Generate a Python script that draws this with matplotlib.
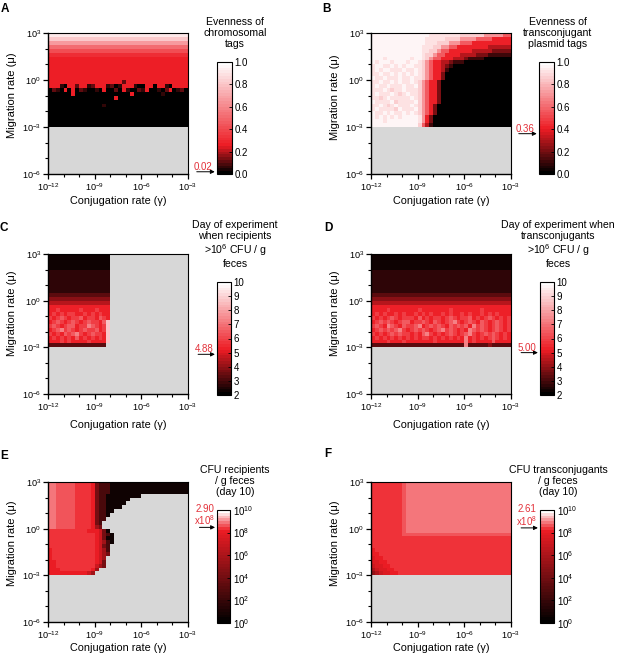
import numpy as np
import matplotlib
matplotlib.use('Agg')
import matplotlib.pyplot as plt
from matplotlib.colors import LinearSegmentedColormap, Normalize
from matplotlib.ticker import NullFormatter

plt.rcParams['font.family'] = ['Liberation Sans', 'DejaVu Sans']
plt.rcParams['mathtext.fontset'] = 'custom'
plt.rcParams['mathtext.rm'] = 'Liberation Sans'
plt.rcParams['mathtext.it'] = 'Liberation Sans:italic'
plt.rcParams['mathtext.bf'] = 'Liberation Sans:bold'

# grids: 24 rows (mu = 10^3 at top down to 10^-3), 36 columns (gamma 10^-12 .. 10^-3)
# each character is an index into that panel's level list, '.' = no data (grey)

A_levels = [0.0, 0.05, 0.12, 0.27, 0.32, 0.40, 0.52, 0.66, 0.80, 0.92]
A_rows = [
    "999999 999999 999999 999999 999999 999999",
    "888888 888888 888888 888888 888888 888888",
    "777777 777777 777777 777777 777777 777777",
    "666666 666666 666666 666666 666666 666666",
    "555555 555555 555555 555555 555555 555555",
    "444444 444444 444444 444444 444444 444444",
    "333333 333333 333333 333333 333333 333333",
    "333333 333333 333333 333333 333333 333333",
    "333333 333333 333333 333333 333333 333333",
    "333333 333333 333333 333333 333333 333333",
    "333333 333333 333333 333333 333333 333333",
    "333333 333333 333333 333333 333333 333333",
    "333333 333333 333333 323333 333333 333333",
    "333103 323312 333120 133310 033033 103333",
    "021030 302100 103002 031002 130010 230120",
    "000000 300000 000000 000300 000001 000000",
    "000000 000000 000003 000000 000000 000000",
    "000000 000000 000000 000000 000000 000000",
    "000000 000000 001000 000000 000000 000000",
    "000000 000000 000000 000000 000000 000000",
    "000000 000000 000000 000000 000000 000000",
    "000000 000000 000000 000000 000000 000000",
    "000000 000000 000000 000000 000000 000000",
    "000000 000000 000000 000000 000000 000000",
]

B_levels = [0.02, 0.10, 0.20, 0.30, 0.40, 0.55, 0.70, 0.86, 0.92, 0.97]
B_rows = [
    "999999 999999 999888 888887 777776 666655",
    "999999 999999 998888 877776 666555 544444",
    "999999 999999 998887 776665 554444 444444",
    "999999 999999 988877 665544 444444 333333",
    "999999 999999 988776 554444 443333 322222",
    "999999 999999 987765 544443 333222 111111",
    "999899 999989 987655 444333 211110 000000",
    "989998 999899 876544 332111 000000 000000",
    "899889 898998 876544 321000 000000 000000",
    "898998 889889 876544 310000 000000 000000",
    "889889 898989 876544 200000 000000 000000",
    "988988 898898 876544 200000 000000 000000",
    "889889 898898 765442 000000 000000 000000",
    "898898 889889 765442 000000 000000 000000",
    "888987 889888 765442 000000 000000 000000",
    "898889 878988 765442 000000 000000 000000",
    "887898 888898 765442 000000 000000 000000",
    "988889 788889 765442 000000 000000 000000",
    "889878 988898 765420 000000 000000 000000",
    "898888 798889 765420 000000 000000 000000",
    "988989 889898 765420 000000 000000 000000",
    "989898 989999 864200 000000 000000 000000",
    "999899 999999 864200 000000 000000 000000",
    "999999 999999 753100 000000 000000 000000",
]

C_levels = [2.3, 2.6, 3.2, 3.9, 4.6, 5.2, 5.8, 6.5, 7.3, 8.6]
C_rows = [
    "000000 000000 0000.. ...... ...... ......",
    "000000 000000 0000.. ...... ...... ......",
    "000000 000000 0000.. ...... ...... ......",
    "000000 000000 0000.. ...... ...... ......",
    "111111 111111 1111.. ...... ...... ......",
    "111111 111111 1111.. ...... ...... ......",
    "111111 111111 1111.. ...... ...... ......",
    "111111 111111 1111.. ...... ...... ......",
    "111111 111111 1111.. ...... ...... ......",
    "111111 111111 1111.. ...... ...... ......",
    "222222 222222 2222.. ...... ...... ......",
    "333333 333333 3333.. ...... ...... ......",
    "444444 444444 4444.. ...... ...... ......",
    "555555 555555 5555.. ...... ...... ......",
    "556555 556555 6555.. ...... ...... ......",
    "565656 655656 5655.. ...... ...... ......",
    "656765 667566 5765.. ...... ...... ......",
    "567656 765676 6579.. ...... ...... ......",
    "676567 756687 6569.. ...... ...... ......",
    "567867 656766 7569.. ...... ...... ......",
    "656576 786567 6659.. ...... ...... ......",
    "565656 575656 5659.. ...... ...... ......",
    "555656 555565 5559.. ...... ...... ......",
    "222222 222222 222... ...... ...... ......",
]

D_levels = [2.3, 2.6, 3.2, 3.9, 4.6, 5.2, 5.8, 6.5, 7.3, 8.2]
D_rows = [
    "000000 000000 000000 000000 000000 000000",
    "000000 000000 000000 000000 000000 000000",
    "000000 000000 000000 000000 000000 000000",
    "000000 000000 000000 000000 000000 000000",
    "111111 111111 111111 111111 111111 111111",
    "111111 111111 111111 111111 111111 111111",
    "111111 111111 111111 111111 111111 111111",
    "111111 111111 111111 111111 111111 111111",
    "111111 111111 111111 111111 111111 111111",
    "111111 111111 111111 111111 111111 111111",
    "222222 222222 222222 222222 222222 222222",
    "333333 333333 333333 333333 333333 333333",
    "444444 444444 444444 444444 444444 444444",
    "555555 555555 555555 555555 555555 555555",
    "555565 555555 655555 556555 555565 555555",
    "565655 656556 565655 656556 565565 656555",
    "656567 656665 756566 567656 675656 765656",
    "567676 567756 676576 567865 676576 567656",
    "676587 657667 856767 657676 758676 567656",
    "567676 786567 676567 867656 587676 567656",
    "656567 676656 578656 567656 786567 676565",
    "565656 565656 566565 656565 856565 676565",
    "555565 556555 555565 555555 856555 575555",
    "222222 222222 222222 222222 822222 322222",
]

E_levels = [0.5, 2.5, 4.0, 5.5, 7.0, 8.0, 8.3, 8.45, 8.6, 8.75]   # log10 CFU
E_rows = [
    "998888 877665 211100 000000 000000 000000",
    "998888 877665 211100 000000 000000 000000",
    "998888 877665 211100 000000 000000 000000",
    "998888 877665 211000 000000 ...... ......",
    "998888 877665 211000 000... ...... ......",
    "998888 877665 211000 00.... ...... ......",
    "998888 877665 211000 0..... ...... ......",
    "998888 877665 21100. ...... ...... ......",
    "998888 877665 2110.. ...... ...... ......",
    "998888 877665 211... ...... ...... ......",
    "998888 877665 21.... ...... ...... ......",
    "998888 877665 32.... ...... ...... ......",
    "777777 766655 5420.. ...... ...... ......",
    "666666 666666 54210. ...... ...... ......",
    "666666 666666 54200. ...... ...... ......",
    "666666 666666 54310. ...... ...... ......",
    "666666 666666 5421.. ...... ...... ......",
    "566666 666666 5431.. ...... ...... ......",
    "566666 666666 5432.. ...... ...... ......",
    "566666 666666 543... ...... ...... ......",
    "556666 666666 542... ...... ...... ......",
    "556666 666666 432... ...... ...... ......",
    "555666 666665 3..... ...... ...... ......",
    "555555 555543 ...... ...... ...... ......",
]

F_levels = [5.0, 6.0, 7.0, 7.6, 8.0, 8.3, 8.45, 8.6, 8.75, 8.9]   # log10 CFU
F_rows = [
    "555555 567888 888888 888888 888888 888888",
    "555555 567888 888888 888888 888888 888888",
    "555555 567888 888888 888888 888888 888888",
    "555555 567888 888888 888888 888888 888888",
    "555555 567888 888888 888888 888888 888888",
    "555555 567888 888888 888888 888888 888888",
    "555555 567888 888888 888888 888888 888888",
    "555555 567888 888888 888888 888888 888888",
    "555555 567888 888888 888888 888888 888888",
    "555555 567888 888888 888888 888888 888888",
    "555555 567888 888888 888888 888888 888888",
    "555555 567888 888888 888888 888888 888888",
    "555555 567888 888888 888888 888888 888888",
    "555555 567777 777777 777777 777777 777777",
    "555555 556666 666666 666666 666666 666666",
    "555555 555555 555555 555555 555555 555555",
    "555555 555555 555555 555555 555555 555555",
    "455555 555555 555555 555555 555555 555555",
    "445555 555555 555555 555555 555555 555555",
    "344555 555555 555555 555555 555555 555555",
    "334455 555555 555555 555555 555555 555555",
    "233445 555555 555555 555555 555555 555555",
    "123344 555555 555555 555555 555555 555555",
    "012334 455555 555555 555555 555555 555555",
]

marker_values = [0.02, 0.36, 4.88, 5.00, np.log10(2.90e8), np.log10(2.61e8)]
marker_texts = ['0.02', '0.36', '4.88', '5.00', '2.90\nx10$^8$', '2.61\nx10$^8$']

cbar_titles = [
    'Evenness of\nchromosomal\ntags',
    'Evenness of\ntransconjugant\nplasmid tags',
    'Day of experiment\nwhen recipients\n>10$^6$ CFU / g\nfeces',
    'Day of experiment when\ntransconjugants\n>10$^6$ CFU / g\nfeces',
    'CFU recipients\n/ g feces\n(day 10)',
    'CFU transconjugants\n/ g feces\n(day 10)',
]

RED = '#ed1c24'
GREY = '#d7d7d7'
NOTE_RED = '#e3313a'

W, H = 617, 658
fig = plt.figure(figsize=(W / 100, H / 100), dpi=100)


def box(l, t, r, b):
    return [l / W, 1 - b / H, (r - l) / W, (b - t) / H]


def decode(rows, levels):
    grid = []
    for r in rows:
        r = r.replace(' ', '')
        grid.append([np.nan if c == '.' else levels[int(c)] for c in r])
    return np.ma.masked_invalid(np.array(grid)[::-1])


x_edges = np.logspace(-12, -3, 37)
y_edges = np.logspace(-3, 3, 25)

frac_ticks = [0, 0.2, 0.4, 0.6, 0.8, 1.0]
frac_labels = ['0.0', '0.2', '0.4', '0.6', '0.8', '1.0']
day_ticks = list(range(2, 11))
day_labels = [str(d) for d in day_ticks]
cfu_ticks = [0, 2, 4, 6, 8, 10]
cfu_labels = [r'$10^{%d}$' % t for t in cfu_ticks]

panels = [
    dict(letter='A', rows=A_rows, levels=A_levels, vmin=0, vmax=1, red=0.25,
         ticks=frac_ticks, labels=frac_labels, ax=(48, 33, 188, 174), cb=(217, 62, 232, 174),
         letter_xy=(1, 3), ylab=(12, 95), xlab=(118, 201), title_xy=(235, 49)),
    dict(letter='B', rows=B_rows, levels=B_levels, vmin=0, vmax=1, red=0.4,
         ticks=frac_ticks, labels=frac_labels, ax=(371, 33, 511, 174), cb=(539, 62, 554, 174),
         letter_xy=(322, 3), ylab=(335, 97), xlab=(441, 201), title_xy=(558, 49)),
    dict(letter='C', rows=C_rows, levels=C_levels, vmin=2, vmax=10, red=0.4,
         ticks=day_ticks, labels=day_labels, ax=(48, 254, 188, 394), cb=(217, 282, 231, 395),
         letter_xy=(0, 222), ylab=(12, 313), xlab=(118, 425), title_xy=(235, 269)),
    dict(letter='D', rows=D_rows, levels=D_levels, vmin=2, vmax=10, red=0.4,
         ticks=day_ticks, labels=day_labels, ax=(371, 254, 511, 394), cb=(540, 282, 554, 395),
         letter_xy=(324, 222), ylab=(335, 313), xlab=(441, 425), title_xy=(558, 269)),
    dict(letter='E', rows=E_rows, levels=E_levels, vmin=0, vmax=10, red=0.83,
         ticks=cfu_ticks, labels=cfu_labels, ax=(48, 482, 188, 622), cb=(217, 510, 230, 623),
         letter_xy=(0, 450), ylab=(12, 543), xlab=(118, 648), title_xy=(235, 497)),
    dict(letter='F', rows=F_rows, levels=F_levels, vmin=0, vmax=10, red=0.83,
         ticks=cfu_ticks, labels=cfu_labels, ax=(371, 482, 511, 622), cb=(540, 510, 554, 623),
         letter_xy=(324, 448), ylab=(335, 543), xlab=(441, 648), title_xy=(558, 497)),
]

for i, p in enumerate(panels):
    cmap = LinearSegmentedColormap.from_list(
        'k_r_w_' + p['letter'], [(0, 'black'), (p['red'], RED), (1, 'white')], N=40)
    norm = Normalize(p['vmin'], p['vmax'])
    data = decode(p['rows'], p['levels'])

    ax = fig.add_axes(box(*p['ax']))
    ax.set_facecolor(GREY)
    mesh = ax.pcolormesh(x_edges, y_edges, data, cmap=cmap, norm=norm, shading='flat')
    ax.set_xscale('log')
    ax.set_yscale('log')
    ax.set_xlim(1e-12, 1e-3)
    ax.set_ylim(1e-6, 1e3)
    ax.set_xticks([1e-12, 1e-9, 1e-6, 1e-3])
    ax.set_xticklabels([r'$10^{-12}$', r'$10^{-9}$', r'$10^{-6}$', r'$10^{-3}$'])
    ax.set_xticks([10.0 ** k for k in range(-12, -2) if k % 3 != 0], minor=True)
    ax.set_yticks([1e-6, 1e-3, 1e0, 1e3])
    ax.set_yticklabels([r'$10^{-6}$', r'$10^{-3}$', r'$10^{0}$', r'$10^{3}$'])
    ax.set_yticks([10.0 ** k for k in range(-6, 4) if k % 3 != 0], minor=True)
    ax.xaxis.set_minor_formatter(NullFormatter())
    ax.yaxis.set_minor_formatter(NullFormatter())
    ax.tick_params(which='major', length=3.5, width=0.9, labelsize=6.6, pad=1.5)
    ax.tick_params(which='minor', length=2.5, width=0.8)
    for side, sp in ax.spines.items():
        sp.set_linewidth(1.0 if side in ('left', 'bottom') else 0.8)

    cax = fig.add_axes(box(*p['cb']))
    cb = fig.colorbar(mesh, cax=cax, ticks=p['ticks'])
    cb.set_ticklabels(p['labels'])
    cb.outline.set_linewidth(0.8)
    cax.tick_params(direction='in', length=2.5, width=0.6, labelsize=7, pad=2)

    # marker arrow with the value in red
    v = marker_values[i]
    tr = cax.get_yaxis_transform()
    cax.annotate('', xy=(-0.15, v), xycoords=tr, xytext=(-1.35, v), textcoords=tr,
                 arrowprops=dict(arrowstyle='-|>', color='black', lw=0.7,
                                 mutation_scale=6, shrinkA=0, shrinkB=0),
                 annotation_clip=False)
    cax.text(-0.95, v, marker_texts[i], transform=tr, ha='center', va='bottom',
             color=NOTE_RED, fontsize=7, linespacing=1.0, clip_on=False)

    tx, ty = p['title_xy']
    fig.text(tx / W, 1 - ty / H, cbar_titles[i], ha='center', va='bottom',
             fontsize=7.6, linespacing=1.1)

    lx, ly = p['letter_xy']
    fig.text(lx / W, 1 - ly / H, p['letter'], ha='left', va='top',
             fontsize=8.5, fontweight='bold')

    yx, yy = p['ylab']
    fig.text(yx / W, 1 - yy / H, 'Migration rate (\u03bc)', rotation=90,
             ha='center', va='center', fontsize=8)
    xx, xy = p['xlab']
    fig.text(xx / W, 1 - xy / H, 'Conjugation rate (\u03b3)', ha='center', va='center',
             fontsize=7.8)

fig.savefig('out.png', dpi=100)
